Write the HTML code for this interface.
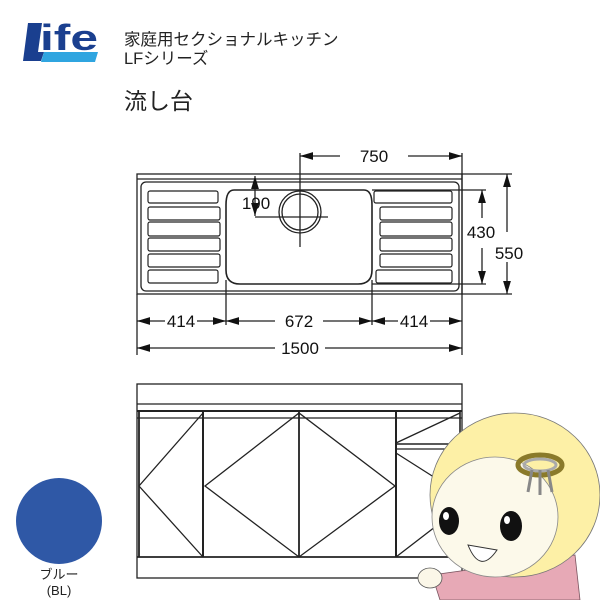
<!DOCTYPE html>
<html><head><meta charset="utf-8"><style>
body{margin:0;background:#fff;width:600px;height:600px;overflow:hidden;font-family:"Liberation Sans","Noto Sans CJK JP",sans-serif}
</style></head><body>
<svg width="600" height="600" viewBox="0 0 600 600" xmlns="http://www.w3.org/2000/svg" style="position:absolute;left:0;top:0">
<defs><marker id="a" markerWidth="10" markerHeight="6" refX="10" refY="3" orient="auto-start-reverse"><path d="M0,0 L10,3 L0,6 z" fill="#111"/></marker></defs>
<!-- logo -->
<path d="M28,23 L42,23 L38,52 L44,52 L41,61 L23,61 Z" fill="#1a3f8f"/>
<path d="M44,52 L98,52 L95,62 L41,62 Z" fill="#2fa5e0"/>
<text x="40" y="50" font-size="36" font-weight="bold" fill="#1a3f8f" font-family="Liberation Sans,sans-serif" textLength="58" lengthAdjust="spacingAndGlyphs">ife</text>
<text x="124" y="45" font-size="16.5" fill="#222">家庭用セクショナルキッチン</text>
<text x="124" y="64" font-size="16.5" fill="#222">LFシリーズ</text>
<text x="124" y="109" font-size="23" fill="#222">流し台</text>
<!-- top view -->
<g stroke="#222" fill="none" stroke-width="1.3">
<rect x="137" y="174" width="325" height="120"/>
<line x1="137" y1="179" x2="462" y2="179"/>
<rect x="141" y="182" width="318" height="109" rx="5"/>
<path d="M234,190 L364,190 Q372,190 372,205 L372,270 Q372,284 358,284 L240,284 Q226,284 226,270 L226,205 Q226,190 234,190 Z" stroke-width="1.6"/>
<circle cx="300" cy="212" r="21"/><circle cx="300" cy="212" r="18"/>
<line x1="300" y1="153" x2="300" y2="247"/><line x1="255" y1="217" x2="328" y2="217"/>
<g stroke-width="1.2">
<rect x="148" y="191" width="70" height="12" rx="2"/><rect x="148" y="207" width="72" height="13" rx="2"/><rect x="148" y="222" width="72" height="14" rx="2"/><rect x="148" y="238" width="72" height="13" rx="2"/><rect x="148" y="254" width="72" height="13" rx="2"/><rect x="148" y="270" width="70" height="13" rx="2"/>
<rect x="374" y="191" width="78" height="12" rx="2"/><rect x="380" y="207" width="72" height="13" rx="2"/><rect x="380" y="222" width="72" height="14" rx="2"/><rect x="380" y="238" width="72" height="13" rx="2"/><rect x="380" y="254" width="72" height="13" rx="2"/><rect x="376" y="270" width="76" height="13" rx="2"/>
</g>
<line x1="300" y1="156" x2="340" y2="156" marker-start="url(#a)"/><line x1="408" y1="156" x2="462" y2="156" marker-end="url(#a)"/>
<line x1="462" y1="153" x2="462" y2="355"/><line x1="137" y1="294" x2="137" y2="355"/>
<line x1="226" y1="280" x2="226" y2="325"/><line x1="372" y1="280" x2="372" y2="325"/>
<line x1="462" y1="174" x2="512" y2="174"/><line x1="462" y1="294" x2="512" y2="294"/>
<line x1="372" y1="190" x2="486" y2="190"/><line x1="372" y1="284" x2="486" y2="284"/>
<line x1="507" y1="174" x2="507" y2="232" marker-start="url(#a)"/><line x1="507" y1="262" x2="507" y2="294" marker-end="url(#a)"/>
<line x1="482" y1="190" x2="482" y2="218" marker-start="url(#a)"/><line x1="482" y1="248" x2="482" y2="284" marker-end="url(#a)"/>
<line x1="255" y1="176" x2="255" y2="216" marker-start="url(#a)" marker-end="url(#a)"/>
<line x1="137" y1="321" x2="165" y2="321" marker-start="url(#a)"/><line x1="197" y1="321" x2="226" y2="321" marker-end="url(#a)"/>
<line x1="226" y1="321" x2="275" y2="321" marker-start="url(#a)"/><line x1="323" y1="321" x2="372" y2="321" marker-end="url(#a)"/>
<line x1="372" y1="321" x2="398" y2="321" marker-start="url(#a)"/><line x1="430" y1="321" x2="462" y2="321" marker-end="url(#a)"/>
<line x1="137" y1="348" x2="275" y2="348" marker-start="url(#a)"/><line x1="325" y1="348" x2="462" y2="348" marker-end="url(#a)"/>
</g>
<g font-size="17" fill="#111" font-family="Liberation Sans,sans-serif" text-anchor="middle">
<text x="374" y="162">750</text><text x="481" y="238">430</text><text x="509" y="259">550</text>
<text x="256" y="209">190</text>
<text x="181" y="327">414</text><text x="299" y="327">672</text><text x="414" y="327">414</text><text x="300" y="354">1500</text>
</g>
<!-- front view -->
<g stroke="#222" fill="none" stroke-width="1.3">
<rect x="137" y="384" width="325" height="194"/>
<line x1="137" y1="404" x2="462" y2="404"/>
<line x1="137" y1="411" x2="462" y2="411" stroke-width="2"/>
<line x1="137" y1="418" x2="462" y2="418"/>
<line x1="137" y1="557" x2="462" y2="557" stroke-width="1.8"/>
<line x1="139" y1="411" x2="139" y2="557" stroke-width="1.8"/>
<line x1="203" y1="411" x2="203" y2="557" stroke-width="2"/>
<line x1="299" y1="411" x2="299" y2="557" stroke-width="1.8"/>
<line x1="396" y1="411" x2="396" y2="557" stroke-width="2"/>
<line x1="460" y1="411" x2="460" y2="450" stroke-width="1.6"/>
<line x1="396" y1="444" x2="462" y2="444" stroke-width="1.6"/><line x1="396" y1="449" x2="462" y2="449"/>
<polyline points="203,413 139,486 203,557"/>
<polygon points="299,413 205,486 299,557 395,486"/>
<line x1="396" y1="443" x2="460" y2="413"/>
<polyline points="396,453 470,500 396,557"/>
</g>
<!-- girl -->
<path d="M432,575 L440,600 L580,600 L575,555 Z" fill="#e7a9b6" stroke="#7a5560" stroke-width="0.8"/>
<ellipse cx="430" cy="578" rx="12" ry="10" fill="#fbf7e8" stroke="#555" stroke-width="0.8"/>
<ellipse cx="515" cy="495" rx="85" ry="82" fill="#fdf0a6" stroke="#777" stroke-width="0.8"/>
<ellipse cx="495" cy="517" rx="63" ry="60" fill="#fcf9ea" stroke="#888" stroke-width="0.8"/>
<ellipse cx="449" cy="521" rx="10" ry="14" fill="#111"/><ellipse cx="446" cy="516" rx="3" ry="4" fill="#fff"/>
<ellipse cx="511" cy="526" rx="11" ry="15" fill="#111"/><ellipse cx="507" cy="520" rx="3" ry="4" fill="#fff"/>
<path d="M468,545 Q480,575 497,550 Z" fill="#fff" stroke="#333"/>
<ellipse cx="540" cy="465" rx="22" ry="10" fill="none" stroke="#8a7a2a" stroke-width="5"/>
<ellipse cx="540" cy="465" rx="16" ry="6" fill="none" stroke="#aaa" stroke-width="3"/>
<path d="M532,470 L528,492 M540,470 L540,495 M548,470 L552,492" stroke="#888" stroke-width="3"/>
</svg>
<div style="position:absolute;left:16px;top:478px;width:86px;height:86px;border-radius:50%;background:#2f58a6"></div>
<div style="position:absolute;left:19px;top:567px;width:80px;text-align:center;font-size:13px;line-height:16px;color:#222">ブルー<br>(BL)</div>
</body></html>
